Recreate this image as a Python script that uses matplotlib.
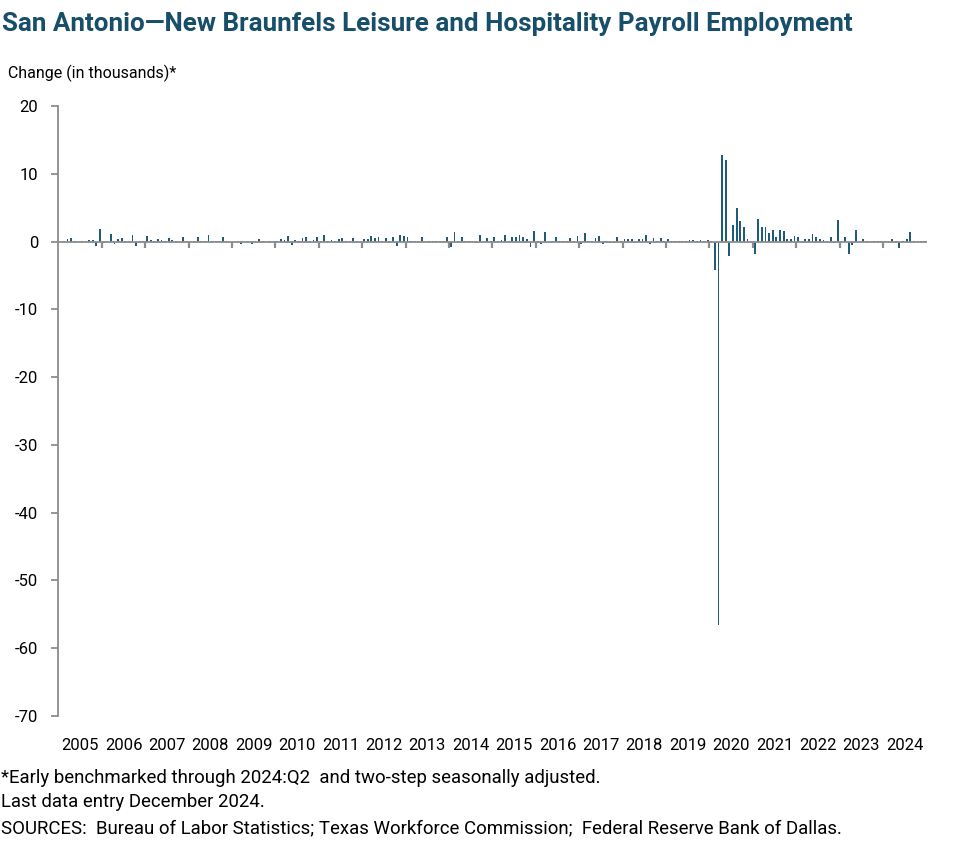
import numpy as np
import matplotlib.pyplot as plt
from matplotlib import font_manager

# monthly change in leisure & hospitality payroll employment (thousands), Jan 2005 - Dec 2024
years = list(range(2005, 2025))
change = [
    0.0, 0.1, 0.35, 0.5, 0.1, 0.0, 0.1, 0.1, 0.3, 0.3, -0.6, 1.8,      # 2005
    -0.2, 0.1, 1.1, -0.4, 0.4, 0.5, 0.1, 0.1, 0.9, -0.7, 0.1, 0.1,     # 2006
    0.8, 0.3, 0.1, 0.4, 0.3, 0.1, 0.5, 0.3, 0.1, 0.1, 0.65, 0.1,       # 2007
    0.1, 0.1, 0.65, 0.1, 0.1, 0.95, 0.1, 0.1, 0.1, 0.65, 0.1, -0.1,    # 2008
    -0.1, -0.2, -0.4, -0.1, -0.1, -0.4, 0.1, 0.35, 0.1, 0.0, 0.1, 0.1, # 2009
    0.1, 0.4, 0.2, 0.8, -0.45, 0.3, 0.1, 0.5, 0.65, 0.1, 0.3, 0.65,    # 2010
    0.1, 1.0, 0.1, 0.3, 0.1, 0.4, 0.5, 0.1, 0.1, 0.5, 0.1, 0.1,        # 2011
    0.4, 0.4, 0.8, 0.5, 0.65, 0.1, 0.5, 0.1, 0.65, -0.6, 0.95, 0.8,    # 2012
    0.65, 0.1, 0.1, 0.1, 0.65, 0.1, 0.1, 0.1, 0.1, 0.1, 0.1, 0.65,     # 2013
    -0.75, 1.45, 0.1, 0.65, 0.1, 0.1, 0.1, -0.2, 0.95, 0.1, 0.5, 0.1,  # 2014
    0.65, 0.1, 0.3, 0.9, 0.1, 0.7, 0.65, 0.95, 0.65, 0.4, -0.85, 1.5,  # 2015
    0.1, -0.3, 1.35, 0.1, 0.1, 0.65, 0.1, 0.1, 0.1, 0.5, 0.1, 0.8,     # 2016
    -0.3, 1.2, 0.1, 0.1, 0.5, 0.75, -0.4, 0.1, -0.2, -0.25, 0.65, 0.1, # 2017
    0.4, 0.4, 0.35, -0.2, 0.4, 0.4, 0.9, -0.4, 0.5, 0.1, 0.5, 0.1,     # 2018
    0.4, 0.1, 0.1, 0.1, 0.1, 0.1, 0.3, 0.3, 0.1, 0.3, 0.1, 0.3,        # 2019
    0.1, -4.2, -56.6, 12.8, 12.0, -2.1, 2.4, 5.0, 3.1, 2.2, 0.45, 0.1, # 2020
    -1.9, 3.4, 2.2, 2.1, 1.2, 1.75, 0.7, 1.65, 1.5, 0.45, 0.45, 0.75,  # 2021
    0.65, 0.1, 0.45, 0.35, 1.1, 0.7, 0.4, 0.3, 0.1, 0.65, -0.25, 3.25, # 2022
    0.1, 0.65, -1.9, -0.55, 1.65, 0.1, 0.45, 0.1, 0.1, 0.1, 0.1, 0.1,  # 2023
    0.1, 0.1, 0.45, 0.1, -0.9, 0.1, 0.45, 1.4, 0.1, 0.1, 0.1, 0.1,     # 2024
]

title = "San Antonio\u2014New Braunfels Leisure and Hospitality Payroll Employment"
ylabel = "Change (in thousands)*"
notes = ["*Early benchmarked through 2024:Q2  and two-step seasonally adjusted.",
         "Last data entry December 2024.",
         "SOURCES:  Bureau of Labor Statistics; Texas Workforce Commission;  Federal Reserve Bank of Dallas."]

BAR = '#1f5c7c'
TITLE = '#174e69'
GRAY = '#8c8c8c'

installed = {f.name for f in font_manager.fontManager.ttflist}
narrow = 'Liberation Sans Narrow' if 'Liberation Sans Narrow' in installed else 'Roboto'
plt.rcParams['font.family'] = ['Roboto', 'DejaVu Sans']
plt.rcParams['axes.unicode_minus'] = False

W, H = 977, 864
fig = plt.figure(figsize=(W / 100, H / 100), dpi=100)
ax = fig.add_axes([58.4 / W, 1 - 716 / H, (926.5 - 58.4) / W, (716 - 106) / H])

x = np.arange(len(change))
ax.bar(x, change, width=0.5, color=BAR, zorder=2)
ax.axhline(0, color=GRAY, lw=1.3, zorder=3)
bounds = np.arange(12, len(change), 12) - 0.5
ax.vlines(bounds, -0.9, 0, color=GRAY, lw=1.6, zorder=3)

ax.set_xlim(-0.5, len(change) - 0.5)
ax.set_ylim(-70, 20)
ax.set_yticks(range(-70, 21, 10))
ax.set_xticks(np.arange(len(years)) * 12 + 5.5, labels=[str(y) for y in years])
for s in ['top', 'right', 'bottom']:
    ax.spines[s].set_visible(False)
ax.spines['left'].set_color(GRAY)
ax.spines['left'].set_linewidth(1.3)
ax.tick_params(axis='y', length=5, width=1.3, color=GRAY, pad=9.5, labelsize=12)
ax.tick_params(axis='x', length=0, pad=16, labelsize=12)

t = fig.text(2 / W, 1 - 24 / H, title, fontweight='bold', color=TITLE, va='center', fontsize=18)
fig.text(8 / W, 1 - 73 / H, ylabel, va='center', fontsize=11.5)
note_txt = [fig.text(1 / W, 1 - yy / H, s, va='center', fontsize=12.5, family=[narrow, 'DejaVu Sans'])
            for s, yy in zip(notes, [778, 802, 828])]

# scale title and notes to their widths in the reference
r = fig.canvas.get_renderer()
w = t.get_window_extent(r).width
t.set_fontsize(t.get_fontsize() * 851 / w)
w = note_txt[2].get_window_extent(r).width
for nt in note_txt:
    nt.set_fontsize(nt.get_fontsize() * 841 / w)

fig.savefig('out.png', dpi=100)
